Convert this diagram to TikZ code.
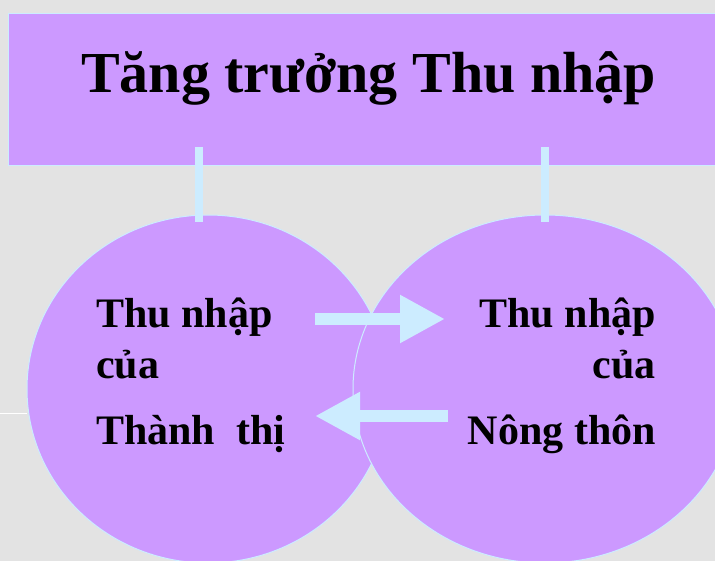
\documentclass[tikz,border=0pt]{standalone}
\usepackage{fontspec}
\setmainfont{Liberation Serif}
\usetikzlibrary{shapes.geometric, arrows.meta}
\definecolor{lilac}{HTML}{CC99FF}
\definecolor{paleblue}{HTML}{CCECFF}
\definecolor{slidegray}{HTML}{E3E3E3}

\begin{document}
\begin{tikzpicture}[x=1pt, y=-1pt,
    banner/.style = {rectangle, fill=lilac, draw=paleblue, line width=0.8pt, minimum width=712pt, minimum height=152pt, inner sep=0pt, anchor=north west},
    bubble/.style = {ellipse, fill=lilac, draw=paleblue, line width=1pt, minimum height=348pt, inner sep=0pt},
    caption/.style = {font=\fontsize{42}{50}\selectfont\bfseries, inner sep=0pt},
    link/.style = {draw=paleblue, line width=8pt},
    flow/.style = {draw=paleblue, line width=12pt, -{Triangle[length=45pt, width=45pt]}}]
  \clip (0,0) rectangle (715,561);
  \fill[slidegray] (0,0) rectangle (715,561);
  \draw[white, line width=1pt] (0,413) -- (27,413);
  \node[banner] (banner) at (8,13) {};
  \node[font=\fontsize{58}{68}\selectfont\bfseries, inner sep=0pt, anchor=base west] (title) at (81,93) {Tăng trưởng Thu nhập};
  \node[bubble, minimum width=362pt] (city) at (208,389) {};
  \node[bubble, minimum width=384pt] (rural) at (545,389) {};
  \coordinate (cityjoin) at (199,222);
  \coordinate (ruraljoin) at (545,222);
  \draw[link] ([yshift=19pt]banner.south -| cityjoin) -- (cityjoin);
  \draw[link] ([yshift=19pt]banner.south -| ruraljoin) -- (ruraljoin);
  \node[caption, anchor=base west] (city1) at (96,328) {Thu nhập};
  \node[caption, anchor=base west] (city2) at (96,378) {của};
  \node[caption, anchor=base west] (city3) at (96,444) {Thành\ \ thị};
  \node[caption, anchor=base east] (rural1) at (656,328) {Thu nhập};
  \node[caption, anchor=base east] (rural2) at (656,378) {của};
  \node[caption, anchor=base east] (rural3) at (656,444) {Nông thôn};
  \coordinate (toright) at (315,319);
  \coordinate (atright) at (445,319);
  \coordinate (toleft) at (448,416);
  \coordinate (atleft) at (315,416);
  \draw[flow] (toright) -- (atright);
  \draw[flow] (toleft) -- (atleft);
\end{tikzpicture}
\end{document}
